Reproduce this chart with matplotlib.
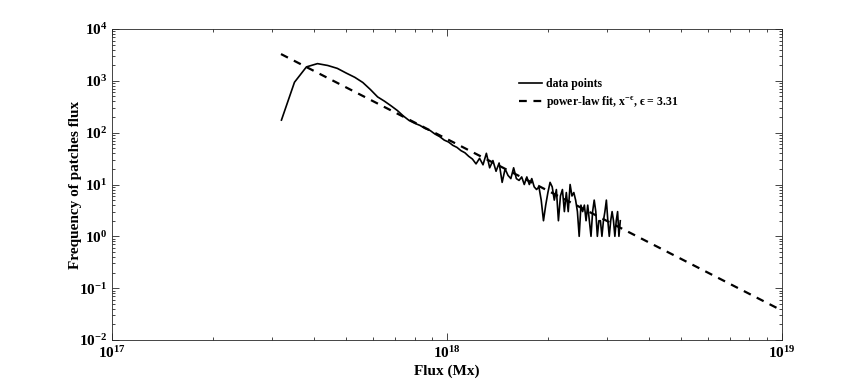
import numpy as np
import matplotlib
matplotlib.use('Agg')
import matplotlib.pyplot as plt
from matplotlib.ticker import FuncFormatter, LogLocator, NullFormatter

# Histogram of patch flux (bin centres in units of 1e17 Mx) and counts
flux_e17 = [3.2, 3.5, 3.8, 4.1, 4.4, 4.7, 5.0, 5.3, 5.6, 5.9,
            6.2, 6.5, 6.8, 7.1, 7.4, 7.7, 8.0, 8.3, 8.6, 8.9,
            9.2, 9.5, 9.8, 10.1, 10.4, 10.7, 11.0, 11.3, 11.6, 11.9,
            12.2, 12.5, 12.8, 13.1, 13.4, 13.7, 14.0, 14.3, 14.6, 14.9,
            15.2, 15.5, 15.8, 16.1, 16.4, 16.7, 17.0, 17.3, 17.6, 17.9,
            18.2, 18.5, 18.8, 19.1, 19.4, 19.7, 20.0, 20.3, 20.6, 20.9,
            21.2, 21.5, 21.8, 22.1, 22.4, 22.7, 23.0, 23.3, 23.6, 23.9,
            24.2, 24.5, 24.8, 25.1, 25.4, 25.7, 26.0, 26.3, 26.6, 26.9,
            27.2, 27.5, 27.8, 28.1, 28.4, 28.7, 29.0, 29.3, 29.6, 29.9,
            30.2, 30.5, 30.8, 31.1, 31.4, 31.7, 32.0, 32.3, 32.6, 32.9]
counts = [175, 940, 1860, 2150, 1980, 1740, 1410, 1170, 930, 680,
          490, 405, 330, 268, 210, 172, 152, 138, 120, 110,
          94, 84, 72, 66, 57, 52, 45, 41, 35, 31,
          25, 32, 24, 40, 21, 29, 18, 26, 11, 20,
          15, 13, 21, 13, 12, 14, 10, 14, 10, 13,
          9, 8, 9, 5, 2, 4, 7, 11, 9, 5,
          8, 2, 6, 8, 3, 7, 3, 10, 6, 7,
          5, 3, 1, 4, 3, 4, 2, 4, 2, 1,
          3, 5, 3, 1, 2, 2, 1, 2, 3, 5,
          2, 1, 2, 3, 2, 1, 2, 3, 1, 2]

# power-law fit end points, epsilon = 3.31
fit_flux = [3.19e17, 1e19]
fit_freq = [3290, 0.037]

plt.rcParams['font.family'] = ['Liberation Serif', 'DejaVu Serif']
plt.rcParams['font.weight'] = 'bold'
plt.rcParams['mathtext.fontset'] = 'custom'
plt.rcParams['mathtext.rm'] = 'Liberation Serif:bold'
plt.rcParams['mathtext.bf'] = 'Liberation Serif:bold'
plt.rcParams['mathtext.it'] = 'Liberation Serif:bold'

flux = np.array(flux_e17) * 1e17

fig = plt.figure(figsize=(8.64, 3.82), dpi=100)
ax = fig.add_axes([0.130, 0.110, 0.775, 0.814])

ax.plot(flux, counts, color='black', lw=1.2, label='data points')
ax.plot(fit_flux, fit_freq, color='black', lw=1.6, ls=(0, (3.5, 3)),
        label='power-law fit, x$^{-ϵ}$, ϵ = 3.31')

ax.set_xscale('log')
ax.set_yscale('log')
ax.set_xlim(1e17, 1e19)
ax.set_ylim(1e-2, 1e4)

def pow10(v, pos):
    return r'$\mathbf{10^{%d}}$' % int(round(np.log10(v)))

ax.xaxis.set_major_locator(LogLocator(base=10, numticks=10))
ax.yaxis.set_major_locator(LogLocator(base=10, numticks=10))
ax.xaxis.set_minor_locator(LogLocator(base=10, subs=np.arange(2, 10), numticks=20))
ax.yaxis.set_minor_locator(LogLocator(base=10, subs=np.arange(2, 10), numticks=20))
ax.xaxis.set_major_formatter(FuncFormatter(pow10))
ax.yaxis.set_major_formatter(FuncFormatter(pow10))
ax.xaxis.set_minor_formatter(NullFormatter())
ax.yaxis.set_minor_formatter(NullFormatter())

ax.tick_params(which='both', direction='in', top=True, right=True,
               color='#262626', labelsize=11)
ax.tick_params(which='major', length=5, width=0.6)
ax.tick_params(which='minor', length=2.5, width=0.6)
for s in ax.spines.values():
    s.set_color('#262626')
    s.set_linewidth(0.6)

ax.set_xlabel('Flux (Mx)', fontsize=11, fontweight='bold', labelpad=3)
ax.set_ylabel('Frequency of patches flux', fontsize=11, fontweight='bold', labelpad=-2)

ax.legend(loc='upper left', bbox_to_anchor=(0.591, 0.877), frameon=False,
          fontsize=8.5, handlelength=2.0, handletextpad=0.3, labelspacing=0.35)

plt.savefig('out.png', dpi=100)
